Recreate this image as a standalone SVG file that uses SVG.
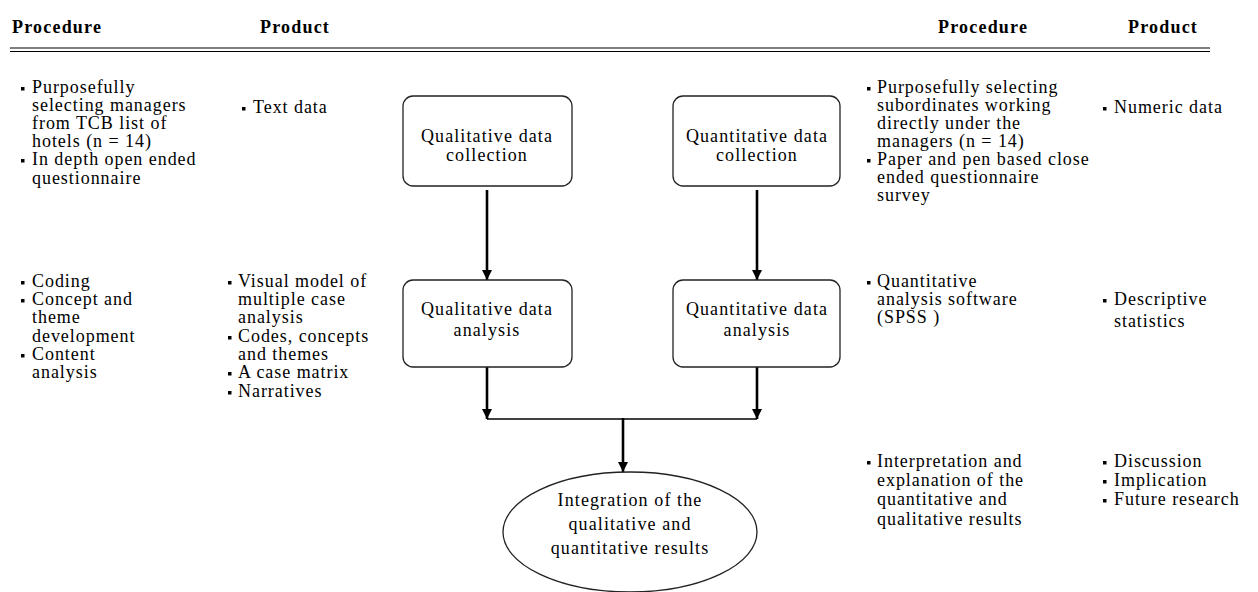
<svg xmlns="http://www.w3.org/2000/svg" width="1258" height="592" viewBox="0 0 1258 592">
<defs>
<marker id="ah" viewBox="0 0 10 10" refX="10" refY="5" markerWidth="4" markerHeight="4.5" markerUnits="strokeWidth" orient="auto">
<path d="M0,0 L10,5 L0,10 z" fill="#000"/>
</marker>
</defs>
<style>
.h{font-family:"Liberation Serif",serif;font-weight:bold;font-size:18px;letter-spacing:1.2px;fill:#000}
.t{font-family:"Liberation Serif",serif;font-size:18px;letter-spacing:0.95px;fill:#000}
.c{font-family:"Liberation Serif",serif;font-size:18px;letter-spacing:1.1px;fill:#000;text-anchor:middle}
.b{fill:#000}
.box{fill:#fff;stroke:#222;stroke-width:1.3}
.con{fill:none;stroke:#000;stroke-width:2.6}
.thin{fill:none;stroke:#000;stroke-width:1.5}
</style>
<rect width="1258" height="592" fill="#fff"/>
<g id="headers">
<text class="h" x="12" y="33">Procedure</text>
<text class="h" x="260" y="33">Product</text>
<text class="h" x="938" y="33">Procedure</text>
<text class="h" x="1128" y="33">Product</text>
<line x1="10" y1="48" x2="1210" y2="48" stroke="#000" stroke-width="1.2"/>
<line x1="10" y1="51.5" x2="1210" y2="51.5" stroke="#000" stroke-width="1.2"/>
</g>
<g id="qual-collection-procedure">
<rect class="b" x="21" y="87" width="3.5" height="3.5"/>
<rect class="b" x="21" y="159" width="3.5" height="3.5"/>
<text class="t" x="32" y="93">Purposefully</text>
<text class="t" x="32" y="111">selecting managers</text>
<text class="t" x="32" y="129">from TCB list of</text>
<text class="t" x="32" y="147">hotels (n = 14)</text>
<text class="t" x="32" y="165">In depth open ended</text>
<text class="t" x="32" y="184">questionnaire</text>
</g>
<g id="qual-collection-product">
<rect class="b" x="242" y="107" width="3.5" height="3.5"/>
<text class="t" x="253" y="113">Text data</text>
</g>
<g id="qual-analysis-procedure">
<rect class="b" x="21" y="281" width="3.5" height="3.5"/>
<rect class="b" x="21" y="299" width="3.5" height="3.5"/>
<rect class="b" x="21" y="354" width="3.5" height="3.5"/>
<text class="t" x="32" y="287">Coding</text>
<text class="t" x="32" y="305">Concept and</text>
<text class="t" x="32" y="323">theme</text>
<text class="t" x="32" y="342">development</text>
<text class="t" x="32" y="360">Content</text>
<text class="t" x="32" y="378">analysis</text>
</g>
<g id="qual-analysis-product">
<rect class="b" x="228" y="281" width="3.5" height="3.5"/>
<rect class="b" x="228" y="336" width="3.5" height="3.5"/>
<rect class="b" x="228" y="372" width="3.5" height="3.5"/>
<rect class="b" x="228" y="391" width="3.5" height="3.5"/>
<text class="t" x="238" y="287">Visual model of</text>
<text class="t" x="238" y="305">multiple case</text>
<text class="t" x="238" y="323">analysis</text>
<text class="t" x="238" y="342">Codes, concepts</text>
<text class="t" x="238" y="360">and themes</text>
<text class="t" x="238" y="378">A case matrix</text>
<text class="t" x="238" y="397">Narratives</text>
</g>
<g id="quant-collection-procedure">
<rect class="b" x="867" y="87" width="3.5" height="3.5"/>
<rect class="b" x="867" y="159" width="3.5" height="3.5"/>
<text class="t" x="877" y="93">Purposefully selecting</text>
<text class="t" x="877" y="111">subordinates working</text>
<text class="t" x="877" y="129">directly under the</text>
<text class="t" x="877" y="147">managers (n = 14)</text>
<text class="t" x="877" y="165">Paper and pen based close</text>
<text class="t" x="877" y="183">ended questionnaire</text>
<text class="t" x="877" y="201">survey</text>
</g>
<g id="quant-collection-product">
<rect class="b" x="1103" y="107" width="3.5" height="3.5"/>
<text class="t" x="1114" y="113">Numeric data</text>
</g>
<g id="quant-analysis-procedure">
<rect class="b" x="867" y="281" width="3.5" height="3.5"/>
<text class="t" x="877" y="287">Quantitative</text>
<text class="t" x="877" y="305">analysis software</text>
<text class="t" x="877" y="323">(SPSS )</text>
</g>
<g id="quant-analysis-product">
<rect class="b" x="1103" y="299" width="3.5" height="3.5"/>
<text class="t" x="1114" y="305">Descriptive</text>
<text class="t" x="1114" y="327">statistics</text>
</g>
<g id="integration-procedure">
<rect class="b" x="867" y="461" width="3.5" height="3.5"/>
<text class="t" x="877" y="467">Interpretation and</text>
<text class="t" x="877" y="486">explanation of the</text>
<text class="t" x="877" y="505">quantitative and</text>
<text class="t" x="877" y="525">qualitative results</text>
</g>
<g id="integration-product">
<rect class="b" x="1103" y="461" width="3.5" height="3.5"/>
<rect class="b" x="1103" y="480" width="3.5" height="3.5"/>
<rect class="b" x="1103" y="499" width="3.5" height="3.5"/>
<text class="t" x="1114" y="467">Discussion</text>
<text class="t" x="1114" y="486">Implication</text>
<text class="t" x="1114" y="505">Future research</text>
</g>
<g id="connectors">
<line class="con" x1="487" y1="190" x2="487" y2="280" marker-end="url(#ah)"/>
<line class="con" x1="757" y1="190" x2="757" y2="280" marker-end="url(#ah)"/>
<line class="con" x1="487" y1="367" x2="487" y2="419" marker-end="url(#ah)"/>
<line class="con" x1="757" y1="367" x2="757" y2="419" marker-end="url(#ah)"/>
<line class="thin" x1="487" y1="419" x2="757" y2="419"/>
<line class="con" x1="623" y1="418" x2="623" y2="472" marker-end="url(#ah)"/>
</g>
<g id="qual-collection">
<rect class="box" x="403" y="96" width="169" height="90" rx="10"/>
<text class="c" x="487" y="142">Qualitative data</text>
<text class="c" x="487" y="161">collection</text>
</g>
<g id="quant-collection">
<rect class="box" x="673" y="96" width="167" height="90" rx="10"/>
<text class="c" x="757" y="142">Quantitative data</text>
<text class="c" x="757" y="161">collection</text>
</g>
<g id="qual-analysis">
<rect class="box" x="403" y="280" width="169" height="87" rx="10"/>
<text class="c" x="487" y="315">Qualitative data</text>
<text class="c" x="487" y="336">analysis</text>
</g>
<g id="quant-analysis">
<rect class="box" x="673" y="280" width="167" height="87" rx="10"/>
<text class="c" x="757" y="315">Quantitative data</text>
<text class="c" x="757" y="336">analysis</text>
</g>
<g id="integration">
<ellipse class="box" cx="630" cy="532" rx="127" ry="60"/>
<text class="c" x="630" y="506">Integration of the</text>
<text class="c" x="630" y="530">qualitative and</text>
<text class="c" x="630" y="554">quantitative results</text>
</g>
</svg>
